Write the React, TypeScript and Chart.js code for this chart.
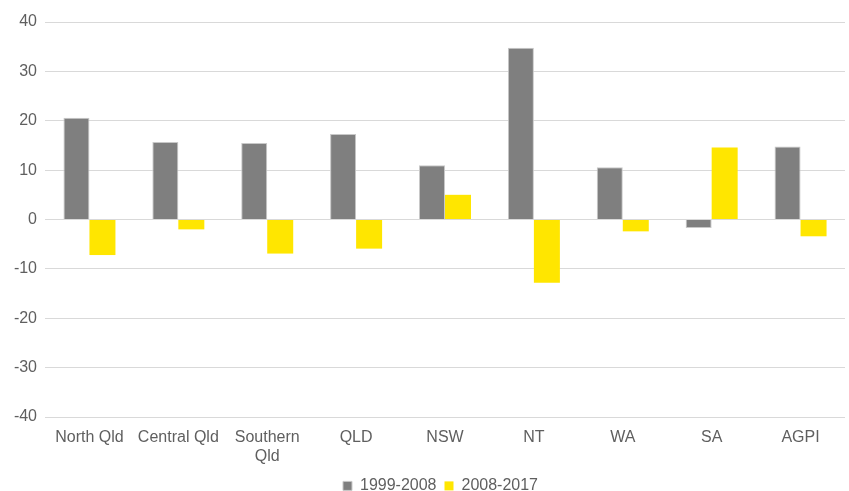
import React, { useEffect, useRef } from "react";
import { Chart, registerables } from "chart.js";

Chart.register(...registerables);

const categories: (string | string[])[] = [
  "North Qld",
  "Central Qld",
  ["Southern", "Qld"],
  "QLD",
  "NSW",
  "NT",
  "WA",
  "SA",
  "AGPI",
];
const series1Label = "1999-2008";
const series2Label = "2008-2017";
const series1 = [20.6, 15.7, 15.5, 17.3, 11.0, 34.8, 10.6, -1.7, 14.8];
const series2 = [-7.2, -2.0, -6.9, -5.9, 5.0, -12.8, -2.4, 14.6, -3.4];
const yMin = -40;
const yMax = 40;
const yStep = 10;

const LEGEND_PAD = 8;
const LEGEND_FONT = 16;
const TEXT_COLOR = "#5f5f5f";

const legendShift = {
  id: "legendShift",
  afterLayout(chart: any) {
    const lg = chart.legend;
    if (!lg) return;
    const textCenter = lg.top + LEGEND_PAD + (LEGEND_FONT * 1.2) / 2;
    const d = 487.5 - textCenter;
    lg.top += d;
    lg.bottom += d;
    lg.left += 18;
    lg.right += 18;
  },
};

export default function App() {
  const ref = useRef<HTMLCanvasElement | null>(null);
  useEffect(() => {
    if (!ref.current) return;
    const font = { family: "'Liberation Sans', Arial, sans-serif", size: 16 };
    const chart = new Chart(ref.current, {
      type: "bar",
      data: {
        labels: categories,
        datasets: [
          {
            label: series1Label,
            data: series1,
            backgroundColor: "#7f7f7f",
            borderColor: "#c8c8c8",
            borderWidth: 1,
          },
          {
            label: series2Label,
            data: series2,
            backgroundColor: "#ffe600",
            borderWidth: 0,
          },
        ],
      },
      plugins: [legendShift],
      options: {
        animation: false,
        responsive: false,
        maintainAspectRatio: false,
        layout: { padding: { top: 22, right: 4, left: 0, bottom: 0 } },
        datasets: {
          bar: { categoryPercentage: 0.585, barPercentage: 1.0 },
        },
        plugins: {
          legend: {
            position: "bottom",
            maxHeight: 22,
            labels: {
              font: { family: font.family, size: LEGEND_FONT },
              color: TEXT_COLOR,
              boxWidth: 9,
              boxHeight: 9,
              padding: LEGEND_PAD,
            },
          },
          tooltip: { enabled: false },
        },
        scales: {
          x: {
            grid: { display: false, drawTicks: false },
            border: { display: false },
            ticks: {
              font,
              color: TEXT_COLOR,
              padding: 11,
              maxRotation: 0,
              autoSkip: false,
            },
            afterFit: (s: any) => {
              s.height = 52;
            },
          },
          y: {
            min: yMin,
            max: yMax,
            ticks: {
              stepSize: yStep,
              font,
              color: TEXT_COLOR,
              padding: 8,
            },
            grid: { color: "#d9d9d9", drawTicks: false, lineWidth: 1 },
            border: { display: false },
            afterFit: (s: any) => {
              s.width = 45;
            },
          },
        },
      },
    });
    return () => chart.destroy();
  }, []);
  return (
    <div style={{ position: "fixed", left: 0, top: 0, width: 849, height: 491, background: "#fff" }}>
      <canvas ref={ref} width={849} height={491} style={{ width: 849, height: 491 }} />
    </div>
  );
}
